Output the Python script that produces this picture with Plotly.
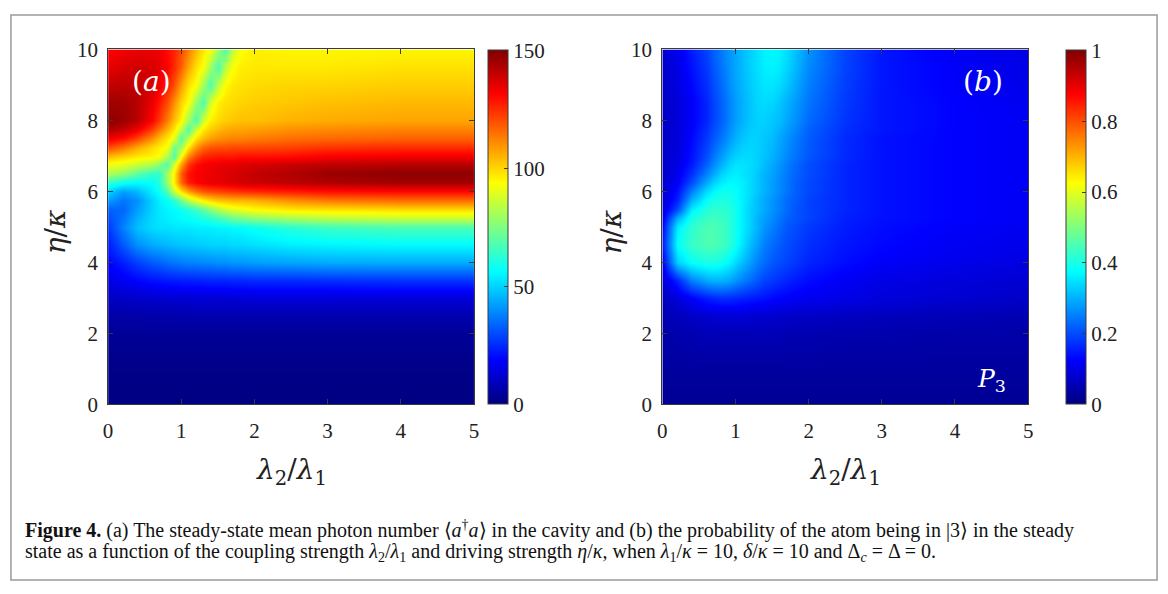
import plotly.graph_objects as go

# grid of lambda2/lambda1 (columns) and eta/kappa (rows)
lam_ratio = [0, 0.2, 0.4, 0.6, 0.7, 0.8, 0.9, 1.0, 1.1, 1.2, 1.3, 1.4, 1.5, 1.6, 1.7, 1.8, 2.0, 2.5, 3.0, 4.0, 5.0]
eta_kappa = [0, 1, 2, 2.5, 3, 3.5, 4, 4.5, 5, 5.25, 5.5, 5.75, 6, 6.25, 6.5, 6.75, 7, 7.25, 7.5, 7.75, 8, 8.5, 9, 9.5, 10]

# (a) steady-state mean photon number <a^dagger a>
photon_number = [
    [0.3, 0.3, 0.3, 0.3, 0.3, 0.3, 0.3, 0.3, 0.3, 0.3, 0.3, 0.3, 0.3, 0.3, 0.3, 0.3, 0.3, 0.3, 0.3, 0.3, 0.3],
    [1.2, 1.2, 1.2, 1.2, 1.2, 1.2, 1.2, 1.2, 1.2, 1.2, 1.2, 1.2, 1.2, 1.2, 1.2, 1.2, 1.2, 1.2, 1.2, 1.2, 1.2],
    [3.5, 3.5, 3.5, 3.5, 3.5, 3.5, 3.5, 3.5, 3.5, 3.5, 3.5, 3.5, 3.5, 3.5, 3.5, 3.5, 3.5, 3.5, 3.5, 3.5, 3.5],
    [6, 6, 6, 6.5, 6.5, 6.5, 6.5, 7, 7, 7, 7, 7, 7, 7, 7, 7, 7, 7, 7, 7, 7],
    [10, 10.5, 11, 11.5, 11.5, 12, 12, 12, 12, 12.5, 12.5, 12.5, 12.5, 12.5, 12.5, 13, 13, 13, 13, 13, 13],
    [15, 17, 19, 21, 21.5, 22, 22.5, 23, 23, 23.5, 23.5, 24, 24, 24, 24.5, 24.5, 25, 25, 25.5, 26, 26],
    [19, 23, 28, 32, 33, 35, 36, 37, 38, 38, 39, 39, 40, 40, 41, 41, 42, 43, 44, 44, 44],
    [23, 32, 40, 44, 45, 46, 47, 48, 48, 49, 49, 50, 50, 50, 51, 51, 52, 54, 55, 56, 56],
    [27, 38, 47, 51, 52, 52, 53, 53, 53, 54, 54, 54, 55, 55, 56, 56, 58, 62, 65, 67, 67],
    [30, 36, 45, 51, 53, 54, 55, 56, 57, 58, 60, 62, 65, 68, 71, 73, 76, 80, 83, 85, 85],
    [33, 34, 42, 50, 53, 55, 56, 58, 61, 65, 70, 76, 82, 86, 89, 91, 94, 97, 98, 99, 99],
    [42, 36, 40, 50, 54, 57, 62, 72, 82, 90, 95, 99, 102, 103, 104, 104, 105, 110, 113, 115, 115],
    [50, 42, 46, 54, 58, 68, 86, 98, 107, 114, 118, 120, 121, 122, 123, 124, 125, 127, 129, 130, 130],
    [64, 58, 56, 57, 62, 78, 97, 116, 127, 131, 133, 134, 135, 136, 137, 138, 139, 141, 143, 145, 145],
    [82, 78, 70, 64, 64, 80, 96, 118, 129, 132, 133, 134, 135, 136, 137, 138, 140, 143, 146, 148, 148],
    [92, 90, 86, 82, 76, 68, 88, 108, 123, 130, 132, 133, 134, 135, 135, 136, 137, 139, 141, 142, 142],
    [104, 100, 97, 95, 93, 82, 68, 94, 112, 121, 126, 127, 128, 128, 128, 129, 129, 130, 132, 133, 133],
    [120, 114, 106, 99, 96, 93, 72, 80, 97, 110, 116, 119, 120, 120, 121, 121, 121, 122, 124, 125, 125],
    [133, 129, 121, 110, 103, 97, 90, 68, 85, 98, 104, 108, 110, 111, 112, 112, 113, 115, 116, 117, 117],
    [143, 140, 133, 122, 114, 105, 97, 84, 67, 87, 97, 101, 104, 106, 107, 107, 108, 110, 111, 112, 112],
    [148, 146, 141, 131, 123, 113, 103, 95, 80, 67, 87, 96, 99, 101, 102, 103, 103, 105, 106, 107, 107],
    [145, 145, 142, 134, 128, 120, 110, 100, 94, 78, 67, 88, 96, 98, 99, 100, 101, 102, 103, 104, 104],
    [140, 141, 140, 137, 133, 127, 119, 108, 98, 93, 80, 67, 85, 94, 97, 98, 99, 100, 100, 101, 101],
    [135, 137, 138, 137, 135, 131, 125, 117, 107, 98, 93, 80, 67, 84, 93, 96, 97, 97, 97, 98, 98],
    [131, 133, 134, 134, 133, 130, 126, 120, 113, 104, 97, 93, 80, 67, 84, 93, 96, 95, 95, 95, 95],
]

# (b) probability P3 of the atom being in |3>
prob_p3 = [
    [0.02, 0.02, 0.02, 0.02, 0.02, 0.02, 0.02, 0.02, 0.02, 0.02, 0.02, 0.02, 0.02, 0.02, 0.02, 0.02, 0.02, 0.02, 0.02, 0.02, 0.02],
    [0.03, 0.03, 0.03, 0.03, 0.03, 0.03, 0.03, 0.03, 0.03, 0.03, 0.03, 0.03, 0.03, 0.03, 0.03, 0.03, 0.03, 0.03, 0.03, 0.03, 0.03],
    [0.04, 0.045, 0.05, 0.055, 0.055, 0.055, 0.055, 0.055, 0.055, 0.055, 0.055, 0.055, 0.055, 0.055, 0.05, 0.05, 0.05, 0.045, 0.045, 0.04, 0.04],
    [0.05, 0.06, 0.07, 0.08, 0.08, 0.085, 0.085, 0.085, 0.085, 0.08, 0.08, 0.08, 0.075, 0.075, 0.075, 0.07, 0.07, 0.065, 0.06, 0.055, 0.05],
    [0.06, 0.09, 0.12, 0.15, 0.16, 0.165, 0.165, 0.16, 0.155, 0.15, 0.145, 0.14, 0.13, 0.125, 0.12, 0.115, 0.11, 0.1, 0.09, 0.08, 0.07],
    [0.08, 0.16, 0.25, 0.29, 0.30, 0.30, 0.29, 0.27, 0.25, 0.23, 0.21, 0.19, 0.18, 0.17, 0.16, 0.15, 0.135, 0.115, 0.1, 0.09, 0.08],
    [0.12, 0.33, 0.38, 0.40, 0.40, 0.39, 0.37, 0.34, 0.31, 0.28, 0.25, 0.23, 0.21, 0.2, 0.19, 0.18, 0.16, 0.135, 0.12, 0.105, 0.095],
    [0.15, 0.38, 0.43, 0.45, 0.45, 0.44, 0.42, 0.39, 0.35, 0.31, 0.28, 0.25, 0.23, 0.215, 0.2, 0.19, 0.17, 0.145, 0.13, 0.115, 0.105],
    [0.13, 0.36, 0.42, 0.45, 0.45, 0.44, 0.42, 0.39, 0.36, 0.33, 0.3, 0.27, 0.25, 0.23, 0.21, 0.2, 0.18, 0.15, 0.135, 0.12, 0.11],
    [0.11, 0.3, 0.4, 0.43, 0.44, 0.43, 0.42, 0.39, 0.36, 0.33, 0.3, 0.28, 0.26, 0.24, 0.22, 0.21, 0.19, 0.155, 0.14, 0.125, 0.115],
    [0.09, 0.2, 0.36, 0.41, 0.42, 0.42, 0.41, 0.39, 0.36, 0.33, 0.31, 0.29, 0.27, 0.25, 0.23, 0.21, 0.19, 0.16, 0.14, 0.125, 0.115],
    [0.08, 0.16, 0.3, 0.38, 0.4, 0.405, 0.4, 0.385, 0.36, 0.335, 0.31, 0.29, 0.27, 0.25, 0.23, 0.215, 0.19, 0.16, 0.14, 0.125, 0.115],
    [0.08, 0.14, 0.25, 0.34, 0.37, 0.39, 0.39, 0.38, 0.36, 0.34, 0.32, 0.3, 0.28, 0.26, 0.24, 0.22, 0.195, 0.16, 0.14, 0.125, 0.115],
    [0.075, 0.12, 0.2, 0.29, 0.33, 0.36, 0.37, 0.37, 0.36, 0.34, 0.32, 0.3, 0.28, 0.26, 0.24, 0.22, 0.195, 0.16, 0.14, 0.125, 0.115],
    [0.07, 0.11, 0.17, 0.25, 0.29, 0.33, 0.35, 0.36, 0.35, 0.34, 0.32, 0.3, 0.285, 0.265, 0.245, 0.225, 0.2, 0.16, 0.14, 0.125, 0.115],
    [0.07, 0.1, 0.15, 0.22, 0.26, 0.3, 0.33, 0.35, 0.35, 0.34, 0.33, 0.31, 0.29, 0.27, 0.25, 0.23, 0.2, 0.16, 0.14, 0.125, 0.115],
    [0.07, 0.095, 0.14, 0.2, 0.24, 0.28, 0.31, 0.33, 0.34, 0.34, 0.33, 0.315, 0.3, 0.28, 0.26, 0.24, 0.21, 0.165, 0.14, 0.125, 0.115],
    [0.07, 0.092, 0.135, 0.19, 0.225, 0.26, 0.29, 0.315, 0.33, 0.335, 0.33, 0.318, 0.305, 0.285, 0.265, 0.245, 0.212, 0.165, 0.14, 0.125, 0.115],
    [0.07, 0.09, 0.13, 0.18, 0.21, 0.24, 0.27, 0.3, 0.32, 0.33, 0.33, 0.32, 0.31, 0.29, 0.27, 0.25, 0.215, 0.165, 0.14, 0.125, 0.115],
    [0.07, 0.09, 0.125, 0.17, 0.2, 0.23, 0.26, 0.29, 0.31, 0.325, 0.33, 0.325, 0.315, 0.3, 0.28, 0.26, 0.22, 0.17, 0.145, 0.125, 0.115],
    [0.07, 0.09, 0.12, 0.16, 0.19, 0.22, 0.25, 0.28, 0.3, 0.32, 0.33, 0.33, 0.32, 0.31, 0.29, 0.27, 0.23, 0.175, 0.145, 0.125, 0.115],
    [0.07, 0.09, 0.12, 0.16, 0.19, 0.22, 0.25, 0.28, 0.3, 0.32, 0.335, 0.34, 0.335, 0.32, 0.3, 0.28, 0.24, 0.18, 0.145, 0.125, 0.11],
    [0.07, 0.095, 0.13, 0.17, 0.2, 0.23, 0.26, 0.285, 0.305, 0.325, 0.34, 0.35, 0.35, 0.34, 0.32, 0.295, 0.25, 0.185, 0.145, 0.12, 0.105],
    [0.075, 0.1, 0.14, 0.18, 0.21, 0.24, 0.265, 0.29, 0.31, 0.33, 0.345, 0.36, 0.365, 0.355, 0.335, 0.31, 0.26, 0.19, 0.145, 0.12, 0.1],
    [0.08, 0.11, 0.15, 0.19, 0.22, 0.245, 0.27, 0.29, 0.31, 0.33, 0.35, 0.365, 0.37, 0.365, 0.345, 0.32, 0.27, 0.19, 0.145, 0.115, 0.1],
]

x_ticks = [0, 1, 2, 3, 4, 5]
y_ticks = [0, 2, 4, 6, 8, 10]
cbar_ticks_a = [0, 50, 100, 150]
cbar_ticks_b = [0, 0.2, 0.4, 0.6, 0.8, 1]

# MATLAB-style jet
jet = [
    [0.0, "rgb(0,0,128)"],
    [0.125, "rgb(0,0,255)"],
    [0.375, "rgb(0,255,255)"],
    [0.625, "rgb(255,255,0)"],
    [0.875, "rgb(255,0,0)"],
    [1.0, "rgb(128,0,0)"],
]

W, H = 1168, 594
FONT = "Liberation Serif"
MATH = "DejaVu Serif"
AXC = "#3a3a3a"


def px_x(p):
    return p / W


def px_y(p):
    return 1 - p / H


fig = go.Figure()

cb_common = dict(
    thickness=20, thicknessmode="pixels", len=px_y(40) - px_y(409), lenmode="fraction",
    y=px_y(409), yanchor="bottom", xanchor="left", xpad=0, ypad=0,
    outlinecolor=AXC, outlinewidth=1, ticks="inside", ticklen=4, tickcolor=AXC,
    tickfont=dict(family=FONT, size=21, color="#222"),
)

fig.add_trace(go.Heatmap(
    x=lam_ratio, y=eta_kappa, z=photon_number, zmin=0, zmax=150,
    colorscale=jet, zsmooth="best", xaxis="x", yaxis="y",
    colorbar=dict(x=px_x(487), tickvals=cbar_ticks_a, **cb_common),
))
fig.add_trace(go.Heatmap(
    x=lam_ratio, y=eta_kappa, z=prob_p3, zmin=0, zmax=1,
    colorscale=jet, zsmooth="best", xaxis="x2", yaxis="y2",
    colorbar=dict(x=px_x(1070), tickvals=cbar_ticks_b, **cb_common),
))

ax_common = dict(
    showline=True, linecolor=AXC, linewidth=1, mirror="ticks",
    ticks="inside", ticklen=5, tickcolor=AXC, showgrid=False, zeroline=False,
    tickfont=dict(family=FONT, size=21, color="#222"),
)
xa = dict(range=[0, 5], tickvals=x_ticks, ticklabelstandoff=7, **ax_common)
ya = dict(domain=[px_y(409), px_y(39)], range=[0, 10], tickvals=y_ticks, ticklabelstandoff=5, **ax_common)
fig.update_layout(
    xaxis=dict(domain=[px_x(104), px_x(473)], anchor="y", **xa),
    yaxis=dict(anchor="x", **ya),
    xaxis2=dict(domain=[px_x(663), px_x(1032)], anchor="y2", **xa),
    yaxis2=dict(anchor="x2", **ya),
    width=W, height=H, margin=dict(l=0, r=0, t=0, b=0),
    paper_bgcolor="white", plot_bgcolor="white", showlegend=False,
)

title_font = dict(family=MATH, size=28, color="#222")
ann = []
for cx, cyx in ((289, 51), (848, 612)):
    ann.append(dict(x=px_x(cx), y=px_y(479), xref="paper", yref="paper", showarrow=False,
                    xanchor="center", yanchor="middle",
                    text="<i>λ</i><sub>2</sub>/<i>λ</i><sub>1</sub>", font=title_font))
    ann.append(dict(x=px_x(cyx), y=px_y(229), xref="paper", yref="paper", showarrow=False,
                    xanchor="center", yanchor="middle",
                    text="<i>η</i>/<i>κ</i>", textangle=-90, font=title_font))

label_font = dict(family=MATH, size=28, color="white")
ann.append(dict(x=0.59, y=9.1, xref="x", yref="y", showarrow=False, xanchor="center", yanchor="middle",
                text="(<i>a</i>)", font=label_font))
ann.append(dict(x=4.38, y=9.1, xref="x2", yref="y2", showarrow=False, xanchor="center", yanchor="middle",
                text="(<i>b</i>)", font=label_font))
ann.append(dict(x=4.5, y=0.68, xref="x2", yref="y2", showarrow=False, xanchor="center", yanchor="middle",
                text="<i>P</i><sub>3</sub>", font=dict(family=MATH, size=25, color="white")))

cap_font = dict(family=FONT, size=20, color="#111")
caption_1 = ("<b>Figure 4.</b> (a) The steady-state mean photon number ⟨<i>a</i><sup>†</sup><i>a</i>⟩ in the cavity "
             "and (b) the probability of the atom being in |3⟩ in the steady")
caption_2 = ("state as a function of the coupling strength <i>λ</i><sub>2</sub>/<i>λ</i><sub>1</sub> and driving "
             "strength <i>η</i>/<i>κ</i>, when <i>λ</i><sub>1</sub>/<i>κ</i> = 10, <i>δ</i>/<i>κ</i> = 10 and "
             "Δ<sub><i>c</i></sub> = Δ = 0.")
ann.append(dict(x=px_x(18), y=px_y(539), xref="paper", yref="paper", xanchor="left", yanchor="middle",
                showarrow=False, text=caption_1, font=cap_font))
ann.append(dict(x=px_x(18), y=px_y(563), xref="paper", yref="paper", xanchor="left", yanchor="middle",
                showarrow=False, text=caption_2, font=cap_font))
fig.update_layout(annotations=ann)

# outer frame around figure and caption
fig.add_shape(type="rect", xref="paper", yref="paper", x0=px_x(6), x1=px_x(1162), y0=px_y(592), y1=px_y(3),
              line=dict(color="#9a9a9a", width=1.5), fillcolor="rgba(0,0,0,0)", layer="above")

fig.write_html("out.html")
